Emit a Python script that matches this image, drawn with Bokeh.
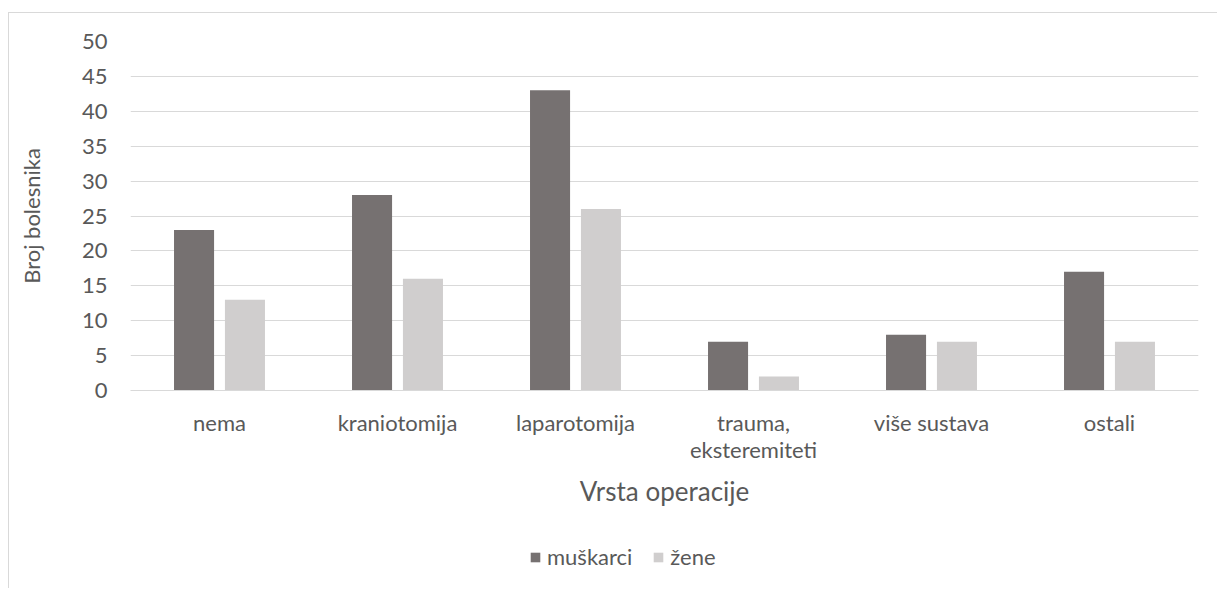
from bokeh.plotting import figure
from bokeh.models import FactorRange, Legend, LegendItem, ColumnDataSource, Range1d
from bokeh.layouts import column
from bokeh.transform import dodge
from bokeh.embed import file_html
from bokeh.resources import INLINE

categories = ["nema", "kraniotomija", "laparotomija", "trauma,\neksteremiteti", "više sustava", "ostali"]
muskarci = [23, 28, 43, 7, 8, 17]
zene = [13, 16, 26, 2, 7, 7]
series_names = ["muškarci", "žene"]
series_colors = ["#767171", "#d0cece"]
y_ticks = list(range(0, 51, 5))

FONT = "Lato"
TXT = "#595959"
BORDER = "1px solid #d9d9d9"

src = ColumnDataSource(dict(cat=categories, m=muskarci, z=zene))


def add_bars(fig):
    rs = []
    for col, key, off in zip(series_colors, ["m", "z"], [-0.143, 0.143]):
        rs.append(fig.vbar(x=dodge("cat", off, range=fig.x_range), top=key, width=0.225,
                           source=src, fill_color=col, line_color=None))
    return rs


p = figure(x_range=FactorRange(*categories, range_padding=0), y_range=(0, 50),
           width=1209, height=517, output_backend="svg", toolbar_location=None,
           min_border_left=121, min_border_right=20, min_border_top=28, min_border_bottom=140)
p.margin = (12, 0, 0, 8)
p.styles = {"border-left": BORDER, "border-top": BORDER}
p.outline_line_color = None
add_bars(p)

p.yaxis.ticker = y_ticks
p.yaxis.axis_line_color = None
p.yaxis.major_tick_line_color = None
p.yaxis.major_tick_out = 0
p.yaxis.major_tick_in = 0
p.yaxis.minor_tick_line_color = None
p.yaxis.major_label_text_font = FONT
p.yaxis.major_label_text_font_size = "22px"
p.yaxis.major_label_text_color = TXT
p.yaxis.major_label_standoff = 23
p.yaxis.axis_label = "Broj bolesnika"
p.yaxis.axis_label_text_font = FONT
p.yaxis.axis_label_text_font_size = "22px"
p.yaxis.axis_label_text_font_style = "normal"
p.yaxis.axis_label_text_color = TXT
p.yaxis.axis_label_standoff = 34

p.xaxis.axis_line_color = "#d9d9d9"
p.xaxis.major_tick_line_color = None
p.xaxis.major_tick_out = 0
p.xaxis.major_tick_in = 0
p.xaxis.minor_tick_line_color = None
p.xaxis.major_label_text_font = FONT
p.xaxis.major_label_text_font_size = "22px"
p.xaxis.major_label_text_line_height = 1.0
p.xaxis.major_label_text_color = TXT
p.xaxis.major_label_standoff = 18
p.xaxis.axis_label = "Vrsta operacije"
p.xaxis.axis_label_text_font = FONT
p.xaxis.axis_label_text_font_size = "26px"
p.xaxis.axis_label_text_font_style = "normal"
p.xaxis.axis_label_text_color = TXT
p.xaxis.axis_label_standoff = 9

p.xgrid.grid_line_color = None
p.ygrid.grid_line_color = "#d9d9d9"
p.ygrid.grid_line_width = 1

# legend strip below the chart (its bars lie outside its visible y range)
lf = figure(width=1209, height=59, output_backend="svg", toolbar_location=None,
            x_range=FactorRange(*categories, range_padding=0), y_range=Range1d(1000, 1001),
            x_axis_location=None, y_axis_location=None,
            min_border_left=0, min_border_right=0, min_border_top=0, min_border_bottom=0)
lf.margin = (0, 0, 0, 8)
lf.styles = {"border-left": BORDER}
lf.outline_line_color = None
lf.xgrid.visible = False
lf.ygrid.visible = False
lrs = add_bars(lf)
items = [LegendItem(label=name, renderers=[r]) for name, r in zip(series_names, lrs)]

legend = Legend(items=items, orientation="horizontal", location=(399, 18),
                label_text_font=FONT, label_text_font_size="22px", label_text_color=TXT,
                glyph_width=12, glyph_height=12, label_standoff=6, spacing=20,
                border_line_color=None, background_fill_alpha=0, margin=0, padding=0)
lf.add_layout(legend, "center")

layout = column(p, lf, spacing=0)
open("out.html", "w").write(file_html(layout, INLINE))
